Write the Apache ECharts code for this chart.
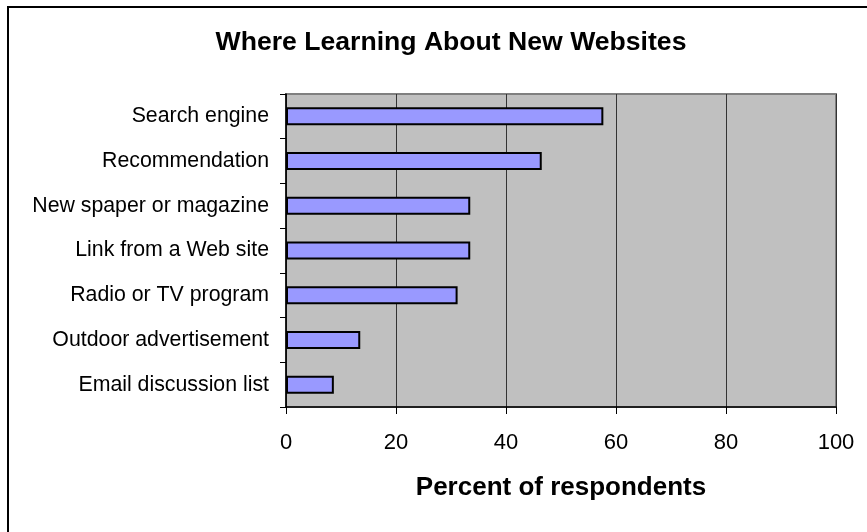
<!DOCTYPE html>
<html>
<head>
<meta charset="utf-8">
<title>Where Learning About New Websites</title>
<script src="https://cdn.jsdelivr.net/npm/echarts@6/dist/echarts.min.js"></script>
<style>
  html, body { margin: 0; padding: 0; background: #ffffff; }
  #chart { width: 867px; height: 532px; }
</style>
</head>
<body>
<div id="chart"></div>
<script>
// Survey sources, listed top to bottom
const categories = [
  'Search engine',
  'Recommendation',
  'New spaper or magazine',
  'Link from a Web site',
  'Radio or TV program',
  'Outdoor advertisement',
  'Email discussion list'
];
// Percent of respondents per source
const percents = [57.7, 46.5, 33.5, 33.5, 31.2, 13.5, 8.7];
// Value axis ticks
const axisTicks = [0, 20, 40, 60, 80, 100];

const FONT = "'Liberation Sans', Arial, sans-serif";
const chart = echarts.init(document.getElementById('chart'), null, { renderer: 'canvas' });

chart.setOption({
  backgroundColor: '#ffffff',
  animation: false,
  title: {
    text: 'Where Learning About New Websites',
    left: 446,
    top: 24,
    textAlign: 'center',
    textStyle: { fontFamily: FONT, fontSize: 26.6, fontWeight: 'bold', color: '#000000' }
  },
  graphic: [{
    type: 'rect',
    shape: { x: 8, y: 7, width: 1000, height: 1000 },
    style: { fill: 'none', stroke: '#000000', lineWidth: 2 },
    z: 100
  }],
  grid: {
    left: 286,
    right: 31,
    top: 94,
    bottom: 125,
    show: true,
    backgroundColor: '#c0c0c0',
    borderColor: '#808080',
    borderWidth: 2
  },
  xAxis: {
    type: 'value',
    min: axisTicks[0],
    max: axisTicks[axisTicks.length - 1],
    interval: axisTicks[1] - axisTicks[0],
    name: 'Percent of respondents',
    nameLocation: 'middle',
    nameGap: 68,
    nameTextStyle: { fontFamily: FONT, fontSize: 26, fontWeight: 'bold', color: '#000000' },
    axisLine: { show: true, lineStyle: { color: '#000000', width: 1.5 } },
    axisTick: { show: true, length: 7, lineStyle: { color: '#000000', width: 1 } },
    axisLabel: { margin: 25, fontFamily: FONT, fontSize: 22, color: '#000000' },
    splitLine: { show: true, lineStyle: { color: '#333333', width: 1 } }
  },
  yAxis: {
    type: 'category',
    data: categories,
    inverse: true,
    axisLine: { show: true, lineStyle: { color: '#000000', width: 1.5 } },
    axisTick: { show: true, length: 6, lineStyle: { color: '#000000', width: 1 } },
    axisLabel: { margin: 17, fontFamily: FONT, fontSize: 21.3, color: '#000000' },
    splitLine: { show: false }
  },
  series: [{
    type: 'bar',
    data: percents,
    barWidth: 18,
    itemStyle: { color: '#9999ff', borderColor: '#000000', borderWidth: 2 }
  }]
});
</script>
</body>
</html>
